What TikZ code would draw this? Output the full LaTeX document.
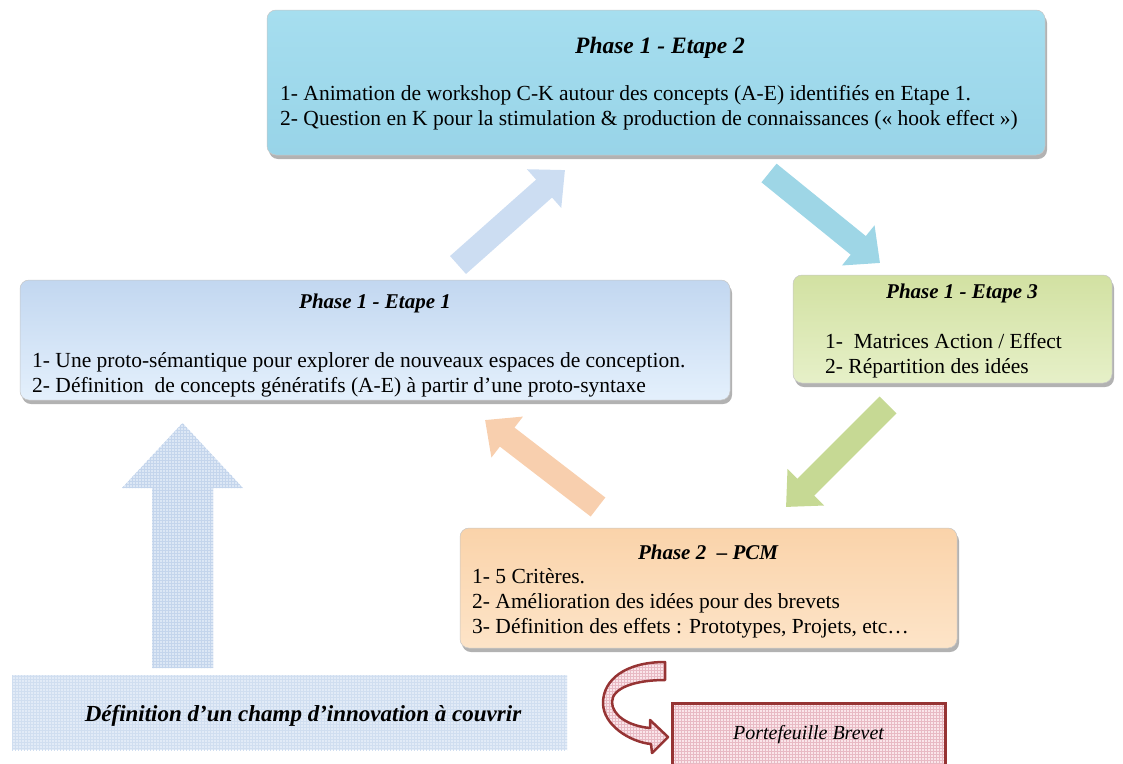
\documentclass[tikz,border=0pt]{standalone}
\usepackage{fontspec}
\setmainfont{Liberation Serif}
\usetikzlibrary{arrows.meta,shadows,patterns}

\definecolor{etapeDeuxHaut}{RGB}{166,222,239}
\definecolor{etapeDeuxBas}{RGB}{152,212,232}
\definecolor{etapeUnHaut}{RGB}{194,215,240}
\definecolor{etapeUnBas}{RGB}{228,240,252}
\definecolor{etapeTroisHaut}{RGB}{210,225,162}
\definecolor{etapeTroisBas}{RGB}{230,240,200}
\definecolor{pcmHaut}{RGB}{250,211,170}
\definecolor{pcmBas}{RGB}{253,228,200}
\definecolor{flecheBleue}{RGB}{204,221,242}
\definecolor{flecheCyan}{RGB}{158,214,230}
\definecolor{flecheVerte}{RGB}{198,217,148}
\definecolor{flechePeche}{RGB}{248,207,174}
\definecolor{grilleFond}{RGB}{226,235,247}
\definecolor{grilleTrait}{RGB}{196,213,236}
\definecolor{brevetFond}{RGB}{250,230,234}
\definecolor{brevetTrait}{RGB}{232,186,196}
\definecolor{brevetRouge}{RGB}{150,52,52}

\begin{document}
\begin{tikzpicture}[x=1pt, y=-1pt,
  phase/.style={rounded corners=9pt, draw=white!55!gray, line width=0.5pt,
                inner sep=0pt,
                drop shadow={shadow xshift=2pt, shadow yshift=-4pt,
                             fill=black!55, opacity=0.55}},
  titre/.style={inner sep=0pt, font=\bfseries\itshape\fontsize{21}{25}\selectfont},
  corps/.style={inner sep=0pt, anchor=west, align=left,
                font=\fontsize{21.5}{25}\selectfont},
  fleche/.style={draw=#1, line width=24pt, -{Triangle[length=28pt,width=50pt]}},
  grille/.style={preaction={fill=#1}, pattern=grid},
]
\clip (0,0) rectangle (1123,763);

% Phase 1 - Etape 2 (top)
\node[phase, top color=etapeDeuxHaut, bottom color=etapeDeuxBas,
      minimum width=778pt, minimum height=145pt] (etape2) at (656,82.5) {};
\node[titre, font=\bfseries\itshape\fontsize{23.5}{25}\selectfont] (etape2titre) at (660,48) {Phase 1 - Etape 2};
\node[corps] (etape2texte) at (280,107.5) {1- Animation de workshop C-K autour des concepts (A-E) identifiés en Etape 1.\\
  2- Question en K pour la stimulation \& production de connaissances (« hook effect »)};

% Phase 1 - Etape 1 (left)
\node[phase, top color=etapeUnHaut, bottom color=etapeUnBas,
      minimum width=710pt, minimum height=120pt] (etape1) at (375,340) {};
\node[titre] (etape1titre) at (375,303) {Phase 1 - Etape 1};
\node[corps] (etape1texte) at (32,375) {1- Une proto-sémantique pour explorer de nouveaux espaces de conception.\\
  2- Définition~ de concepts génératifs (A-E) à partir d’une proto-syntaxe};

% Phase 1 - Etape 3 (right)
\node[phase, top color=etapeTroisHaut, bottom color=etapeTroisBas,
      minimum width=319pt, minimum height=108pt] (etape3) at (952.5,329) {};
\node[titre] (etape3titre) at (962,293) {Phase 1 - Etape 3};
\node[corps] (etape3texte) at (825,355.5) {1-~ Matrices Action / Effect\\2- Répartition des idées};

% Phase 2 - PCM
\node[phase, top color=pcmHaut, bottom color=pcmBas,
      minimum width=497pt, minimum height=120pt] (pcm) at (708.5,588) {};
\node[titre] (pcmtitre) at (708,552) {Phase 2~ – PCM};
\node[corps] (pcmtexte) at (472,603) {1- 5 Critères.\\2- Amélioration des idées pour des brevets\\
  3- Définition des effets : Prototypes, Projets, etc…};

% Champ d'innovation (bottom left)
\node[grille=grilleFond, pattern color=grilleTrait!60!grilleFond,
      minimum width=555pt, minimum height=75pt, inner sep=0pt] (champ) at (289.5,712.5) {};
\node[titre, font=\bfseries\itshape\fontsize{23}{25}\selectfont] (champtexte) at (303,716)
  {Définition d’un champ d’innovation à couvrir};

% Portefeuille Brevet
\node[grille=brevetFond, pattern color=brevetTrait, draw=brevetRouge, line width=3pt,
      minimum width=273pt, minimum height=64pt, inner sep=0pt,
      font=\itshape\fontsize{20}{24}\selectfont] (brevet) at (808.5,735) {Portefeuille Brevet};

% fat arrows between the phases
\coordinate (f1debut) at (458,265);
\coordinate (f1fin) at (565,170);
\coordinate (f2debut) at (769,173);
\coordinate (f2fin) at (880,263);
\coordinate (f3debut) at (888,405);
\coordinate (f3fin) at (786,507);
\coordinate (f4debut) at (598,507);
\coordinate (f4fin) at (485,420);
\draw[fleche=flecheBleue] (f1debut) -- (f1fin);
\draw[fleche=flecheCyan] (f2debut) -- (f2fin);
\draw[fleche=flecheVerte] (f3debut) -- (f3fin);
\draw[fleche=flechePeche] (f4debut) -- (f4fin);

% big arrow up from the champ
\coordinate (montebase) at (182.5,668);
\coordinate (montepointe) at (182.5,423);
\path[grille=grilleFond!80!grilleTrait, pattern color=grilleTrait]
  (montebase) ++(-30.5,0) -- ++(0,-180) -- ++(-30,0) -- (montepointe)
  -- ++(60.5,65) -- ++(-30,0) -- ++(0,180) -- cycle;

% curved arrow to the Portefeuille
\path[grille=brevetFond, pattern color=brevetTrait, draw=brevetRouge,
      line width=2.5pt, line join=round]
  (665,662) .. controls (625,662) and (603,680) .. (603,703)
  .. controls (603,725) and (630,742) .. (651,744)
  -- (652,753) -- (668,737) -- (650,720) -- (650,728)
  .. controls (628,726) and (612,715) .. (612,702)
  .. controls (612,688) and (635,680) .. (665,680) -- cycle;
\end{tikzpicture}
\end{document}
